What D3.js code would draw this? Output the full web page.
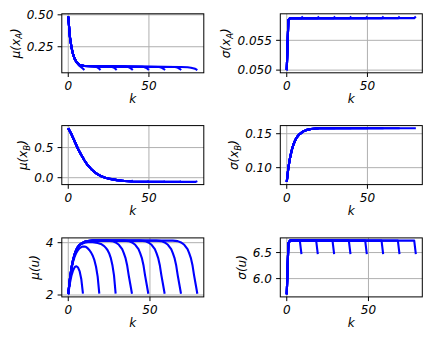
<!DOCTYPE html>
<html>
<head>
<meta charset="utf-8">
<script src="https://cdn.jsdelivr.net/npm/d3@7"></script>
<style>
  body { margin: 0; background: #fff; }
  text { font-family: "DejaVu Sans", sans-serif; font-style: italic; fill: #000; }
</style>
</head>
<body>
<script>
// figure size and grid of axes (3 rows x 2 cols)
var width = 436, height = 349;
var colX = [61.8, 280.3], plotW = 142;
var rowY = [13.8, 125.6, 237.9], plotH = 59;
var fontSize = 12, tickLen = 4.2, tickPad = 4.2;

var kTicks = [0, 50];

// one trajectory per prediction horizon (10, 20, ..., 80), points are [k, value]
var muXA = [
  [[0,0.487],[1,0.33],[2,0.245],[3,0.19],[4,0.153],[5,0.13],[6,0.113],[7,0.1],[8,0.09],[9,0.08],[10,0.068]],
  [[0,0.487],[1,0.33],[2,0.245],[3,0.19],[4,0.155],[5,0.133],[6,0.119],[7,0.11],[8,0.104],[10,0.099],[15,0.097],[16,0.096],[17,0.094],[18,0.089],[19,0.08],[20,0.068]],
  [[0,0.487],[1,0.33],[2,0.245],[3,0.19],[4,0.155],[5,0.133],[6,0.119],[7,0.11],[8,0.104],[10,0.099],[20,0.096],[26,0.095],[27,0.093],[28,0.088],[29,0.08],[30,0.068]],
  [[0,0.487],[1,0.33],[2,0.245],[3,0.19],[4,0.155],[5,0.133],[6,0.119],[7,0.11],[8,0.104],[10,0.099],[20,0.096],[36,0.094],[37,0.092],[38,0.087],[39,0.079],[40,0.068]],
  [[0,0.487],[1,0.33],[2,0.245],[3,0.19],[4,0.155],[5,0.133],[6,0.119],[7,0.11],[8,0.104],[10,0.099],[20,0.096],[46,0.093],[47,0.091],[48,0.086],[49,0.079],[50,0.068]],
  [[0,0.487],[1,0.33],[2,0.245],[3,0.19],[4,0.155],[5,0.133],[6,0.119],[7,0.11],[8,0.104],[10,0.099],[20,0.096],[56,0.092],[57,0.09],[58,0.085],[59,0.078],[60,0.068]],
  [[0,0.487],[1,0.33],[2,0.245],[3,0.19],[4,0.155],[5,0.133],[6,0.119],[7,0.11],[8,0.104],[10,0.099],[20,0.096],[66,0.091],[67,0.089],[68,0.085],[69,0.078],[70,0.068]],
  [[0,0.487],[1,0.33],[2,0.245],[3,0.19],[4,0.155],[5,0.133],[6,0.119],[7,0.11],[8,0.104],[10,0.099],[20,0.096],[70,0.091],[74,0.089],[76,0.086],[78,0.08],[79,0.075],[80,0.067]]
];

var sigXA = [
  [[0,0.0500],[1,0.0584],[2,0.05872],[9,0.05872],[10,0.0590]],
  [[0,0.0500],[1,0.0584],[2,0.05872],[19,0.05872],[20,0.0590]],
  [[0,0.0500],[1,0.0584],[2,0.05872],[29,0.05872],[30,0.0590]],
  [[0,0.0500],[1,0.0584],[2,0.05872],[39,0.05872],[40,0.0590]],
  [[0,0.0500],[1,0.0584],[2,0.05872],[49,0.05872],[50,0.0590]],
  [[0,0.0500],[1,0.0584],[2,0.05872],[59,0.05872],[60,0.0590]],
  [[0,0.0500],[1,0.0584],[2,0.05872],[69,0.05872],[70,0.0590]],
  [[0,0.0500],[1,0.0584],[2,0.05872],[79,0.05872],[80,0.0590]]
];

var muXB = [
  [[0,0.82],[2,0.72],[4,0.6],[6,0.48],[8,0.38],[9,0.335],[10,0.30]],
  [[0,0.82],[2,0.72],[4,0.6],[6,0.48],[8,0.38],[10,0.29],[12,0.21],[14,0.15],[16,0.1],[18,0.06],[19,0.045],[20,0.05]],
  [[0,0.82],[2,0.72],[4,0.6],[6,0.48],[8,0.38],[10,0.29],[12,0.21],[14,0.15],[16,0.1],[18,0.06],[20,0.03],[23,0.0],[26,-0.02],[29,-0.037],[30,-0.022]],
  [[0,0.82],[2,0.72],[4,0.6],[6,0.48],[8,0.38],[10,0.29],[12,0.21],[14,0.15],[16,0.1],[18,0.06],[20,0.03],[23,0.0],[26,-0.02],[30,-0.04],[35,-0.055],[39,-0.061],[40,-0.047]],
  [[0,0.82],[2,0.72],[4,0.6],[6,0.48],[8,0.38],[10,0.29],[12,0.21],[14,0.15],[16,0.1],[18,0.06],[20,0.03],[23,0.0],[26,-0.02],[30,-0.04],[35,-0.055],[40,-0.062],[49,-0.068],[50,-0.054]],
  [[0,0.82],[2,0.72],[4,0.6],[6,0.48],[8,0.38],[10,0.29],[12,0.21],[14,0.15],[16,0.1],[18,0.06],[20,0.03],[23,0.0],[26,-0.02],[30,-0.04],[35,-0.055],[40,-0.062],[50,-0.068],[59,-0.07],[60,-0.056]],
  [[0,0.82],[2,0.72],[4,0.6],[6,0.48],[8,0.38],[10,0.29],[12,0.21],[14,0.15],[16,0.1],[18,0.06],[20,0.03],[23,0.0],[26,-0.02],[30,-0.04],[35,-0.055],[40,-0.062],[50,-0.068],[60,-0.07],[69,-0.07],[70,-0.056]],
  [[0,0.82],[2,0.72],[4,0.6],[6,0.48],[8,0.38],[10,0.29],[12,0.21],[14,0.15],[16,0.1],[18,0.06],[20,0.03],[23,0.0],[26,-0.02],[30,-0.04],[35,-0.055],[40,-0.062],[50,-0.068],[60,-0.07],[70,-0.07],[79,-0.069],[80,-0.057]]
];

var sigXB = [
  [[0,0.079],[1,0.1],[2,0.114],[3,0.125],[4,0.133],[5,0.139],[6,0.144],[7,0.147],[8,0.1495],[10,0.153]],
  [[0,0.079],[1,0.1],[2,0.114],[3,0.125],[4,0.133],[5,0.139],[6,0.144],[7,0.147],[8,0.1495],[10,0.153],[12,0.1553],[15,0.157],[20,0.158]],
  [[0,0.079],[1,0.1],[2,0.114],[3,0.125],[4,0.133],[5,0.139],[6,0.144],[7,0.147],[8,0.1495],[10,0.153],[12,0.1553],[15,0.157],[20,0.158],[30,0.158]],
  [[0,0.079],[1,0.1],[2,0.114],[3,0.125],[4,0.133],[5,0.139],[6,0.144],[7,0.147],[8,0.1495],[10,0.153],[12,0.1553],[15,0.157],[20,0.158],[40,0.158]],
  [[0,0.079],[1,0.1],[2,0.114],[3,0.125],[4,0.133],[5,0.139],[6,0.144],[7,0.147],[8,0.1495],[10,0.153],[12,0.1553],[15,0.157],[20,0.158],[50,0.158]],
  [[0,0.079],[1,0.1],[2,0.114],[3,0.125],[4,0.133],[5,0.139],[6,0.144],[7,0.147],[8,0.1495],[10,0.153],[12,0.1553],[15,0.157],[20,0.158],[60,0.158]],
  [[0,0.079],[1,0.1],[2,0.114],[3,0.125],[4,0.133],[5,0.139],[6,0.144],[7,0.147],[8,0.1495],[10,0.153],[12,0.1553],[15,0.157],[20,0.158],[70,0.158]],
  [[0,0.079],[1,0.1],[2,0.114],[3,0.125],[4,0.133],[5,0.139],[6,0.144],[7,0.147],[8,0.1495],[10,0.153],[12,0.1553],[15,0.157],[20,0.158],[80,0.158]]
];

// inputs run from k = 0 to N-1
var muU = [
  [[0,2.03],[1,2.45],[2,2.75],[3,2.95],[4,3.07],[5,3.1],[6,3.05],[7,2.9],[8,2.6],[9,2.05]],
  [[0,2.03],[1,2.6],[2,3.0],[3,3.28],[4,3.48],[5,3.62],[6,3.72],[7,3.79],[8,3.83],[9,3.85],[10,3.85],[11,3.83],[12,3.78],[13,3.71],[14,3.62],[15,3.5],[16,3.33],[17,3.08],[18,2.7],[19,2.05]],
  [[0,2.03],[1,2.62],[2,3.04],[3,3.34],[4,3.56],[5,3.72],[6,3.83],[7,3.9],[8,3.95],[10,4.0],[12,4.02],[15,4.02],[18,3.99],[20,3.95],[22,3.87],[23,3.8],[24,3.72],[25,3.6],[26,3.42],[27,3.15],[28,2.75],[29,2.05]],
  [[0,2.03],[1,2.62],[2,3.05],[3,3.36],[4,3.58],[5,3.74],[6,3.85],[7,3.92],[8,3.97],[10,4.03],[12,4.06],[15,4.08],[24,4.08],[27,4.06],[29,4.01],[31,3.92],[33,3.75],[34,3.6],[35,3.42],[36,3.15],[37,2.75],[38,2.4],[39,2.05]],
  [[0,2.03],[1,2.62],[2,3.05],[3,3.36],[4,3.58],[5,3.74],[6,3.85],[7,3.92],[8,3.97],[10,4.03],[12,4.06],[15,4.08],[34,4.08],[37,4.06],[39,4.01],[41,3.92],[43,3.75],[44,3.6],[45,3.42],[46,3.15],[47,2.75],[48,2.4],[49,2.05]],
  [[0,2.03],[1,2.62],[2,3.05],[3,3.36],[4,3.58],[5,3.74],[6,3.85],[7,3.92],[8,3.97],[10,4.03],[12,4.06],[15,4.08],[44,4.08],[47,4.06],[49,4.01],[51,3.92],[53,3.75],[54,3.6],[55,3.42],[56,3.15],[57,2.75],[58,2.4],[59,2.05]],
  [[0,2.03],[1,2.62],[2,3.05],[3,3.36],[4,3.58],[5,3.74],[6,3.85],[7,3.92],[8,3.97],[10,4.03],[12,4.06],[15,4.08],[54,4.08],[57,4.06],[59,4.01],[61,3.92],[63,3.75],[64,3.6],[65,3.42],[66,3.15],[67,2.75],[68,2.4],[69,2.05]],
  [[0,2.03],[1,2.62],[2,3.05],[3,3.36],[4,3.58],[5,3.74],[6,3.85],[7,3.92],[8,3.97],[10,4.03],[12,4.06],[15,4.08],[64,4.08],[67,4.06],[69,4.01],[71,3.92],[73,3.75],[74,3.6],[75,3.42],[76,3.15],[77,2.75],[78,2.4],[79,2.05]]
];

var sigU = [
  [[0,5.70],[1,6.68],[2,6.73],[8,6.73],[9,6.47]],
  [[0,5.70],[1,6.68],[2,6.73],[18,6.73],[19,6.47]],
  [[0,5.70],[1,6.68],[2,6.73],[28,6.73],[29,6.47]],
  [[0,5.70],[1,6.68],[2,6.73],[38,6.73],[39,6.47]],
  [[0,5.70],[1,6.68],[2,6.73],[48,6.73],[49,6.47]],
  [[0,5.70],[1,6.68],[2,6.73],[58,6.73],[59,6.47]],
  [[0,5.70],[1,6.68],[2,6.73],[68,6.73],[69,6.47]],
  [[0,5.70],[1,6.68],[2,6.73],[78,6.73],[79,6.47]]
];

// y labels: [symbol, subscript]
var panels = [
  {row: 0, col: 0, sym: "μ(x", sub: "A", data: muXA,  yTicks: [0.25, 0.50],   fmt: ".2f"},
  {row: 0, col: 1, sym: "σ(x", sub: "A", data: sigXA, yTicks: [0.050, 0.055], fmt: ".3f"},
  {row: 1, col: 0, sym: "μ(x", sub: "B", data: muXB,  yTicks: [0.0, 0.5],     fmt: ".1f"},
  {row: 1, col: 1, sym: "σ(x", sub: "B", data: sigXB, yTicks: [0.10, 0.15],   fmt: ".2f"},
  {row: 2, col: 0, sym: "μ(u", sub: "",  data: muU,   yTicks: [2, 4],         fmt: "d"},
  {row: 2, col: 1, sym: "σ(u", sub: "",  data: sigU,  yTicks: [6.0, 6.5],     fmt: ".1f"}
];

var svg = d3.select("body").append("svg")
  .attr("width", width)
  .attr("height", height);

svg.append("rect").attr("width", width).attr("height", height).attr("fill", "#fff");

// matplotlib style autoscale: data extent + 5% each side
function padded(ext) {
  var m = (ext[1] - ext[0]) * 0.05;
  return [ext[0] - m, ext[1] + m];
}

panels.forEach(function(p, i) {
  var x0 = colX[p.col], y0 = rowY[p.row];
  var all = d3.merge(p.data);

  var x = d3.scaleLinear()
    .domain(padded(d3.extent(all, function(d) { return d[0]; })))
    .range([x0, x0 + plotW]);
  var y = d3.scaleLinear()
    .domain(padded(d3.extent(all, function(d) { return d[1]; })))
    .range([y0 + plotH, y0]);

  var g = svg.append("g");

  g.append("clipPath").attr("id", "clip" + i)
    .append("rect")
    .attr("x", x0).attr("y", y0).attr("width", plotW).attr("height", plotH);

  // grid
  g.selectAll(".gx").data(kTicks).enter().append("line")
    .attr("x1", function(d) { return x(d); }).attr("x2", function(d) { return x(d); })
    .attr("y1", y0).attr("y2", y0 + plotH)
    .attr("stroke", "#b0b0b0").attr("stroke-width", 1);
  g.selectAll(".gy").data(p.yTicks).enter().append("line")
    .attr("x1", x0).attr("x2", x0 + plotW)
    .attr("y1", function(d) { return y(d); }).attr("y2", function(d) { return y(d); })
    .attr("stroke", "#b0b0b0").attr("stroke-width", 1);

  // trajectories
  var line = d3.line()
    .x(function(d) { return x(d[0]); })
    .y(function(d) { return y(d[1]); });

  g.append("g").attr("clip-path", "url(#clip" + i + ")")
    .selectAll("path").data(p.data).enter().append("path")
    .attr("d", line)
    .attr("fill", "none")
    .attr("stroke", "#0000ff")
    .attr("stroke-width", 2.1)
    .attr("stroke-linejoin", "round");

  // frame
  g.append("rect")
    .attr("x", x0).attr("y", y0).attr("width", plotW).attr("height", plotH)
    .attr("fill", "none").attr("stroke", "#000").attr("stroke-width", 1);

  // x axis ticks
  var xa = g.selectAll(".xt").data(kTicks).enter().append("g");
  xa.append("line")
    .attr("x1", function(d) { return x(d); }).attr("x2", function(d) { return x(d); })
    .attr("y1", y0 + plotH).attr("y2", y0 + plotH + tickLen)
    .attr("stroke", "#000").attr("stroke-width", 1);
  xa.append("text")
    .attr("x", function(d) { return x(d); })
    .attr("y", y0 + plotH + tickLen + tickPad + 0.76 * fontSize)
    .attr("text-anchor", "middle")
    .attr("font-size", fontSize)
    .text(function(d) { return d; });

  // y axis ticks
  var ya = g.selectAll(".yt").data(p.yTicks).enter().append("g");
  ya.append("line")
    .attr("x1", x0 - tickLen).attr("x2", x0)
    .attr("y1", function(d) { return y(d); }).attr("y2", function(d) { return y(d); })
    .attr("stroke", "#000").attr("stroke-width", 1);
  var ylabs = ya.append("text")
    .attr("x", x0 - tickLen - tickPad)
    .attr("y", function(d) { return y(d); })
    .attr("dy", "0.36em")
    .attr("text-anchor", "end")
    .attr("font-size", fontSize)
    .text(function(d) { return d3.format(p.fmt)(d); });

  var minLeft = d3.min(ylabs.nodes(), function(n) { return n.getBBox().x; });

  // x label
  g.append("text")
    .attr("x", x0 + plotW / 2)
    .attr("y", y0 + plotH + 30.5)
    .attr("text-anchor", "middle")
    .attr("font-size", fontSize)
    .text("k");

  // y label, rotated
  var lx = minLeft - 11.5, ly = y0 + plotH / 2;
  var yl = g.append("text")
    .attr("transform", "translate(" + lx + "," + ly + ") rotate(-90)")
    .attr("text-anchor", "middle")
    .attr("dy", "0.36em")
    .attr("font-size", fontSize);
  yl.append("tspan").text(p.sym);
  if (p.sub) {
    yl.append("tspan").attr("font-size", 8.5).attr("dy", 2.5).text(p.sub);
    yl.append("tspan").attr("dy", -2.5).text(")");
  } else {
    yl.append("tspan").text(")");
  }
});
</script>
</body>
</html>
